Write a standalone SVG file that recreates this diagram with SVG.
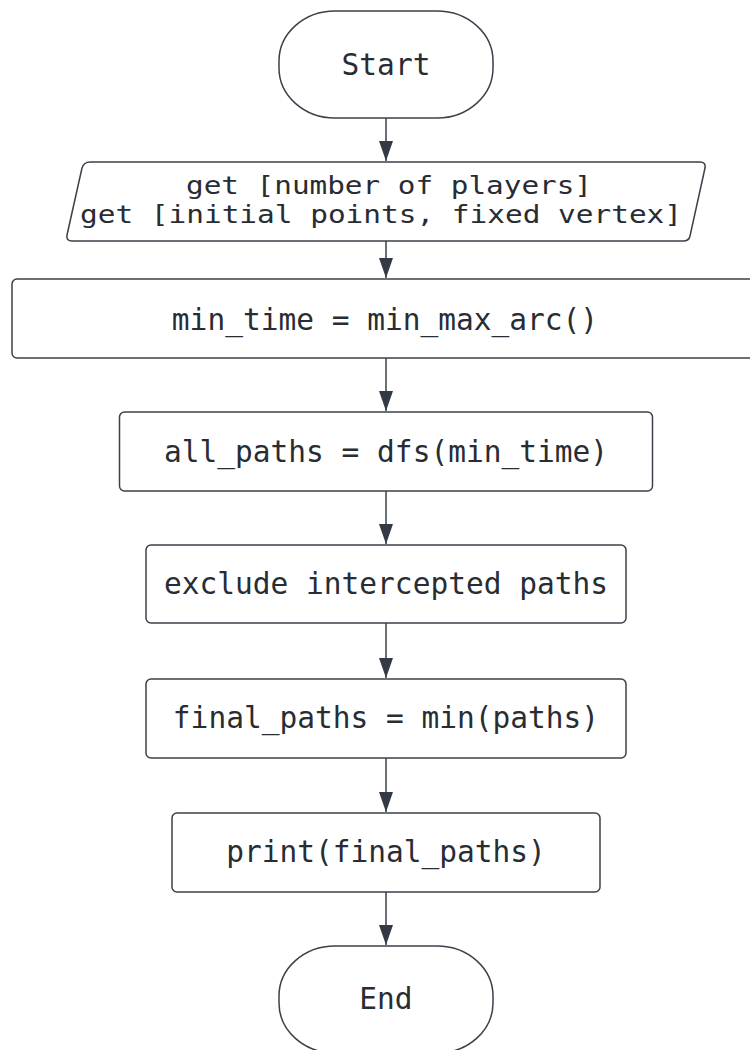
<svg xmlns="http://www.w3.org/2000/svg" width="750" height="1050" viewBox="0 0 750 1050">
  <defs>
    <style>
      .shape { fill: #ffffff; stroke: #3a414a; stroke-width: 1.5; }
      .label { font-family: "DejaVu Sans Mono", "Liberation Mono", monospace; font-size: 29.5px; fill: #282c33; text-anchor: middle; dominant-baseline: central; }
      .tight { font-size: 25px; }
      .edge { fill: none; stroke: #3a414a; stroke-width: 1.5; marker-end: url(#arrow); }
    </style>
    <marker id="arrow" viewBox="0 0 20 14" refX="20" refY="7" markerWidth="20" markerHeight="14" markerUnits="userSpaceOnUse" orient="auto">
      <path d="M0,0 L20,7 L0,14 z" fill="#333a45"/>
    </marker>
  </defs>
  <rect width="750" height="1050" fill="#ffffff"/>

  <g id="connectors">
    <line class="edge" x1="386" y1="118" x2="386" y2="161"/>
    <line class="edge" x1="386" y1="241" x2="386" y2="278"/>
    <line class="edge" x1="386" y1="358" x2="386" y2="411"/>
    <line class="edge" x1="386" y1="491" x2="386" y2="544"/>
    <line class="edge" x1="386" y1="623" x2="386" y2="678"/>
    <line class="edge" x1="386" y1="758" x2="386" y2="812"/>
    <line class="edge" x1="386" y1="892" x2="386" y2="945"/>
  </g>

  <g id="start">
    <rect class="shape" x="279" y="11" width="214" height="107" rx="56" ry="50"/>
    <text class="label" x="386" y="65">Start</text>
  </g>

  <g id="input">
    <path class="shape" d="M90,162 L700,162 Q706,162 705,168 L690,236 Q689,241 683,241 L72,241 Q66,241 67,235 L82,168 Q84,162 90,162 Z"/>
    <text class="label tight" x="389" y="185" textLength="406" lengthAdjust="spacingAndGlyphs">get [number of players]</text>
    <text class="label tight" x="381" y="214" textLength="602" lengthAdjust="spacingAndGlyphs">get [initial points, fixed vertex]</text>
  </g>

  <g id="min-time">
    <rect class="shape" x="12" y="279" width="750" height="79" rx="5"/>
    <text class="label" x="385" y="320">min_time = min_max_arc()</text>
  </g>

  <g id="all-paths">
    <rect class="shape" x="119.5" y="412" width="533" height="79" rx="5"/>
    <text class="label" x="386" y="452">all_paths = dfs(min_time)</text>
  </g>

  <g id="exclude">
    <rect class="shape" x="146" y="545" width="480" height="78" rx="5"/>
    <text class="label" x="386" y="584">exclude intercepted paths</text>
  </g>

  <g id="final-paths">
    <rect class="shape" x="146" y="679" width="480" height="79" rx="5"/>
    <text class="label" x="386" y="718">final_paths = min(paths)</text>
  </g>

  <g id="print">
    <rect class="shape" x="172" y="813" width="428" height="79" rx="5"/>
    <text class="label" x="386" y="852">print(final_paths)</text>
  </g>

  <g id="end">
    <rect class="shape" x="279" y="946" width="214" height="107" rx="56" ry="50"/>
    <text class="label" x="386" y="999">End</text>
  </g>
</svg>
